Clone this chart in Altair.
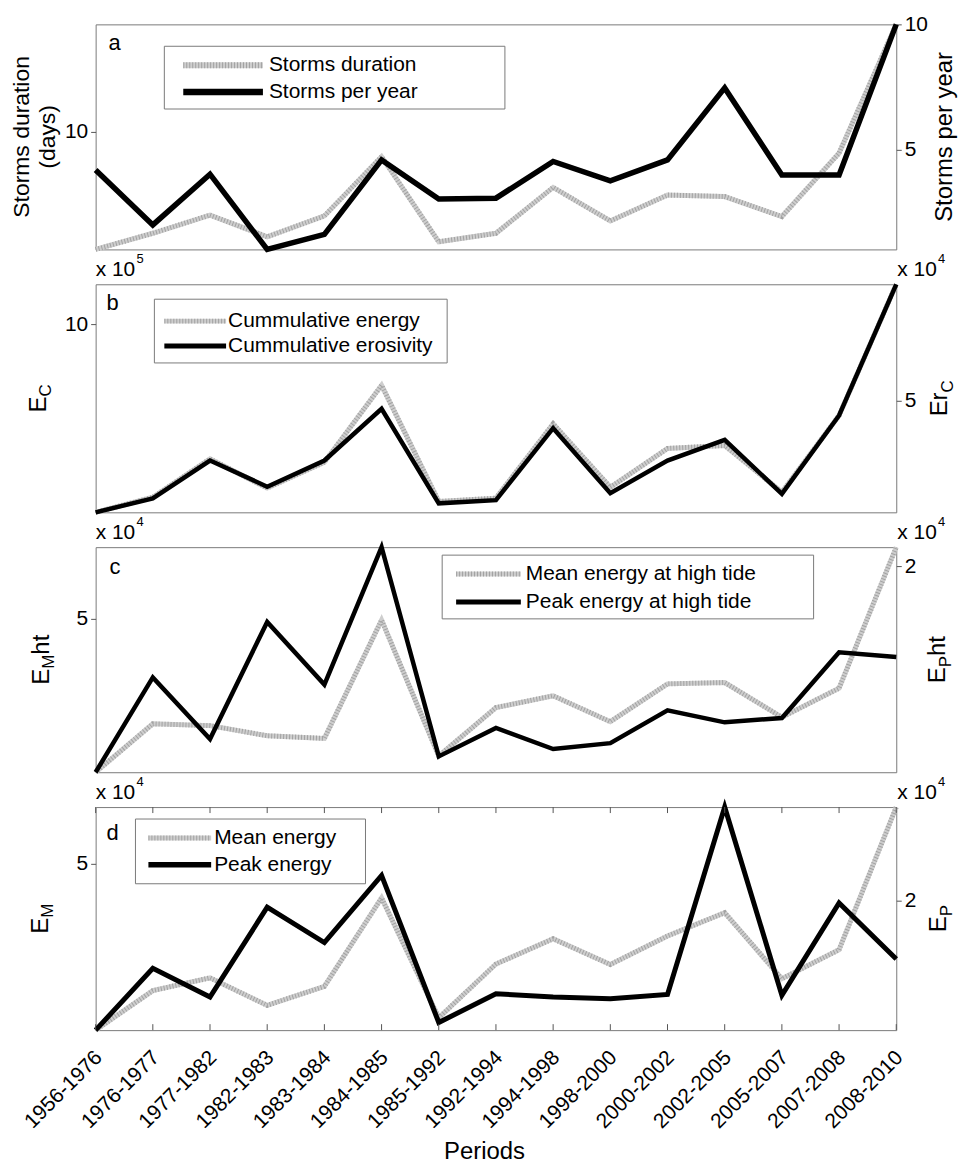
import altair as alt
import pandas as pd

# ---------------- data ----------------
periods = ["1956-1976", "1976-1977", "1977-1982", "1982-1983", "1983-1984",
           "1984-1985", "1985-1992", "1992-1994", "1994-1998", "1998-2000",
           "2000-2002", "2002-2005", "2005-2007", "2007-2008", "2008-2010"]

# panel a
storms_duration = [6.0, 6.55, 7.17, 6.43, 7.14, 9.16, 6.26, 6.55, 8.11, 6.97,
                   7.85, 7.80, 7.12, 9.28, 13.66]          # days
storms_per_year = [4.18, 1.98, 4.01, 1.0, 1.6, 4.58, 3.02, 3.05, 4.52, 3.74,
                   4.58, 7.46, 3.98, 3.98, 10.0]
# panel b
cum_energy = [5.5, 5.86, 6.78, 6.08, 6.70, 8.54, 5.76, 5.84, 7.62, 6.10,
              7.03, 7.10, 5.98, 7.82, 10.96]                # x 10^5
cum_erosivity = [0.5, 1.06, 2.58, 1.53, 2.58, 4.66, 0.86, 0.99, 3.88, 1.27,
                 2.58, 3.41, 1.24, 4.39, 9.66]              # x 10^4
# panel c
mean_energy_ht = [1.5, 2.60, 2.56, 2.33, 2.27, 4.96, 1.87, 2.97, 3.24, 2.65,
                  3.51, 3.54, 2.75, 3.41, 6.62]             # x 10^4
peak_energy_ht = [1.05, 1.487, 1.203, 1.743, 1.454, 2.088, 1.123, 1.254, 1.157,
                  1.184, 1.335, 1.280, 1.300, 1.603, 1.581]  # x 10^4
# panel d
mean_energy = [1.5, 2.33, 2.60, 2.02, 2.42, 4.28, 1.76, 2.89, 3.42, 2.88,
               3.48, 3.97, 2.58, 3.19, 6.19]                # x 10^4
peak_energy = [1.1, 1.528, 1.329, 1.952, 1.707, 2.172, 1.153, 1.352, 1.329,
               1.318, 1.347, 2.646, 1.341, 1.982, 1.593]    # x 10^4

# ---------------- style ----------------
FONT = "Liberation Sans"
W = 804
GREY_BASE = "#cecece"
GREY_STRIPE = "#a2a2a2"
FRAME = "#7a7a7a"
TITLE_SIZE = 24
SUB_SIZE = 17

ARIAL_W = {"E": .667, "r": .333, "C": .722, "M": .833, "P": .667, "h": .556, "t": .278}


def tw(s, size):
    return sum(ARIAL_W[c] for c in s) * size


one = alt.Data(values=[{"k": 0}])


def txt(text, x, y, size, align="left", baseline="alphabetic", angle=None):
    kw = dict(align=align, baseline=baseline, fontSize=size, font=FONT, color="black")
    if angle is not None:
        kw["angle"] = angle
    return alt.Chart(one).mark_text(**kw).encode(
        x=alt.value(x), y=alt.value(y), text=alt.value(text))


def rot_title(parts, xb, h):
    """parts: list of (text, size, baseline shift)"""
    total = sum(tw(t, s) for t, s, _ in parts)
    y = h / 2 + total / 2
    out = []
    for t, s, sh in parts:
        out.append(txt(t, xb + sh, y, s, align="left", angle=270))
        y -= tw(t, s)
    return out


def expo(x0, sup):
    return [txt("x 10", x0, -8, 21), txt(sup, x0 + 41, -21, 13)]


def legend(box, lx, tx, rows, gw, bw):
    x0, x1, y0, y1 = box
    gy, by = rows[0][1], rows[1][1]
    parts = [
        alt.Chart(one).mark_rect(fill="white", stroke=FRAME, strokeWidth=1).encode(
            x=alt.value(x0), x2=alt.value(x1), y=alt.value(y0), y2=alt.value(y1)),
        alt.Chart(one).mark_rule(color=GREY_BASE, strokeWidth=gw).encode(
            x=alt.value(lx[0]), x2=alt.value(lx[1]), y=alt.value(gy)),
        alt.Chart(one).mark_rule(color=GREY_STRIPE, strokeWidth=gw, strokeDash=[1, 2]).encode(
            x=alt.value(lx[0]), x2=alt.value(lx[1]), y=alt.value(gy)),
        alt.Chart(one).mark_rule(color="black", strokeWidth=bw).encode(
            x=alt.value(lx[0]), x2=alt.value(lx[1]), y=alt.value(by)),
        txt(rows[0][0], tx, gy, 21, baseline="middle"),
        txt(rows[1][0], tx, by, 21, baseline="middle"),
    ]
    return parts


def panel(h, left_vals, right_vals, ldom, rdom, lticks, rticks, bw, extras, bottom=False):
    df = pd.DataFrame({"period": periods, "left": left_vals, "right": right_vals})
    if bottom:
        xaxis = alt.Axis(labelAngle=-45, labelAlign="right", labelBaseline="middle",
                         labelFontSize=21, labelFont=FONT, labelColor="black",
                         ticks=False, tickSize=0, domain=False, labelPadding=24,
                         labelOffset=3, title="Periods", titleFontSize=24,
                         titleFont=FONT, titleFontWeight="normal", titleColor="black",
                         titlePadding=8, titleX=390)
    else:
        xaxis = None
    x = alt.X("period:N", sort=periods, scale=alt.Scale(type="point", padding=0), axis=xaxis)
    base = alt.Chart(df).encode(x=x)
    yl = alt.Y("left:Q", scale=alt.Scale(domain=ldom, nice=False, zero=False),
               axis=alt.Axis(orient="left", values=lticks, title=None))
    yr = alt.Y("right:Q", scale=alt.Scale(domain=rdom, nice=False, zero=False),
               axis=alt.Axis(orient="right", values=rticks, title=None))
    grey = alt.layer(
        base.mark_line(color=GREY_BASE, strokeWidth=5).encode(y=yl),
        base.mark_line(color=GREY_STRIPE, strokeWidth=5, strokeDash=[1, 2]).encode(y=yl),
    )
    black = base.mark_line(color="black", strokeWidth=bw).encode(y=yr)
    layers = [grey, black]
    if bottom:
        layers.append(base.mark_rule(color="#555555", strokeWidth=1).encode(
            y=alt.value(0), y2=alt.value(6)))
        layers.append(base.mark_rule(color="#555555", strokeWidth=1).encode(
            y=alt.value(h - 6), y2=alt.value(h)))
    layers += extras
    return alt.layer(*layers).resolve_scale(y="independent").properties(width=W, height=h)


# ---------------- panels ----------------
HA, HB, HC, HD = 226, 229, 226, 224

pa = panel(
    HA, storms_duration, storms_per_year, [6, 13.66], [1, 10], [10], [5, 10], 5.5,
    [txt("a", 13, 26, 22)]
    + legend((69, 411, 22, 85), (88, 168), 174,
             [("Storms duration", 41), ("Storms per year", 68)], 6, 6.5)
    + [txt("Storms duration", -67, HA / 2, 23, align="center", angle=270),
       txt("(days)", -41, HA / 2, 23, align="center", angle=270),
       txt("Storms per year", W + 56, HA / 2, TITLE_SIZE, align="center", angle=270)],
)

pb = panel(
    HB, cum_energy, cum_erosivity, [5.5, 10.96], [0.5, 9.66], [10], [5], 4.5,
    [txt("b", 11, 26, 22)]
    + legend((59, 353, 15, 79), (69, 131), 133,
             [("Cummulative energy", 37), ("Cummulative erosivity", 62)], 5, 5)
    + rot_title([("E", TITLE_SIZE, 0), ("C", SUB_SIZE, 5)], -50, HB)
    + rot_title([("Er", TITLE_SIZE, 0), ("C", SUB_SIZE, 6)], W + 51, HB)
    + expo(0, "5") + expo(W + 1, "4"),
)

pc = panel(
    HC, mean_energy_ht, peak_energy_ht, [1.5, 6.62], [1.05, 2.0876], [5], [2], 4.5,
    [txt("c", 14, 27, 22)]
    + legend((348, 721, 8, 72), (362, 427), 432,
             [("Mean energy at high tide", 27), ("Peak energy at high tide", 55)], 5, 5)
    + rot_title([("E", TITLE_SIZE, 0), ("M", SUB_SIZE, 5), ("ht", TITLE_SIZE, 0)], -47, HC)
    + rot_title([("E", TITLE_SIZE, 0), ("P", SUB_SIZE, 6), ("ht", TITLE_SIZE, 0)], W + 49, HC)
    + expo(0, "4") + expo(W + 1, "4"),
)

pd_ = panel(
    HD, mean_energy, peak_energy, [1.5, 6.19], [1.1, 2.646], [5], [2], 5,
    [txt("d", 11, 33, 22)]
    + legend((40, 271, 12, 77), (53, 116), 119,
             [("Mean energy", 31), ("Peak energy", 58)], 5, 5.5)
    + rot_title([("E", TITLE_SIZE, 0), ("M", SUB_SIZE, 5)], -48, HD)
    + rot_title([("E", TITLE_SIZE, 0), ("P", SUB_SIZE, 6)], W + 50, HD)
    + expo(0, "4") + expo(W + 1, "4"),
    bottom=True,
)

chart = (
    alt.vconcat(pa, pb, pc, pd_, spacing=35, bounds="flush")
    .resolve_scale(x="independent", y="independent")
    .properties(padding={"left": 2, "top": 2, "right": 0, "bottom": 0}, background="white")
    .configure_view(stroke=FRAME, strokeWidth=1)
    .configure_axis(labelFont=FONT, labelFontSize=21, labelColor="black", tickColor="#555555",
                    tickSize=5, domain=False, grid=False, labelPadding=3)
)

chart.save("out.html", embed_options={"renderer": "svg", "actions": False})
